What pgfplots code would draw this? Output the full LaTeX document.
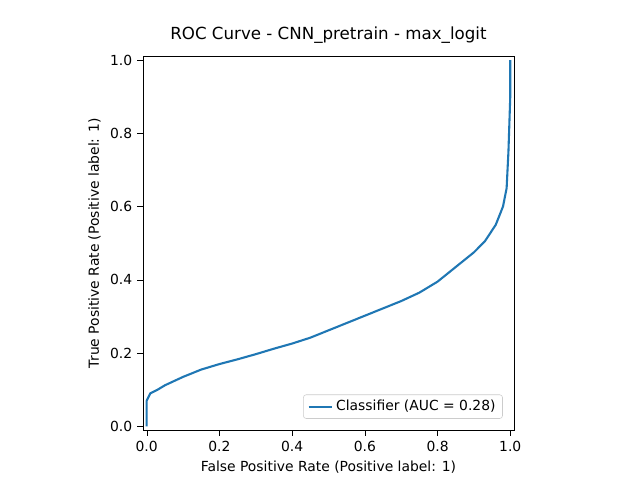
\documentclass[border=0pt]{standalone}
\usepackage{pgfplots}
\pgfplotsset{compat=1.18}
\usepackage{fontspec}
\setmainfont{DejaVu Sans}
\begin{document}
\begin{tikzpicture}
\fill[white] (0,0) rectangle (460.8pt,345.6pt);
\begin{axis}[at={(103pt,36pt)},anchor=south west,scale only axis,
width=267pt,height=269pt,
xmin=-0.01,xmax=1.01,ymin=-0.01,ymax=1.01,
xtick={0,0.2,0.4,0.6,0.8,1},ytick={0,0.2,0.4,0.6,0.8,1},
/pgf/number format/assume math mode=true,
xticklabel style={/pgf/number format/.cd,fixed,fixed zerofill,precision=1},
yticklabel style={/pgf/number format/.cd,fixed,fixed zerofill,precision=1},
tick style={black},tick align=outside,
xtick pos=bottom,ytick pos=left,
ticklabel style={font=\fontsize{10}{12}\selectfont},
title style={font=\fontsize{12}{14}\selectfont},
label style={font=\fontsize{10}{12}\selectfont},
title={ROC Curve - CNN\_pretrain - max\_logit},
xlabel={False Positive Rate (Positive label: 1)},
ylabel={True Positive Rate (Positive label: 1)},
legend pos=south east,
legend style={font=\fontsize{10}{12}\selectfont,draw=black!20,rounded corners=2pt},
legend cell align=left]
\addplot[color={rgb,255:red,31;green,119;blue,180},line width=1.5pt] coordinates {
(0,0)(0,0.07)(0.005,0.08)(0.01,0.09)(0.03,0.1)(0.05,0.112)(0.1,0.135)(0.15,0.155)(0.2,0.17)(0.25,0.183)(0.3,0.197)(0.35,0.212)(0.4,0.226)(0.45,0.242)(0.5,0.262)(0.55,0.282)(0.6,0.302)(0.65,0.322)(0.7,0.342)(0.75,0.365)(0.8,0.395)(0.85,0.435)(0.9,0.475)(0.93,0.505)(0.96,0.55)(0.98,0.6)(0.99,0.65)(0.995,0.75)(1,0.9)(1,1)};
\addlegendentry{Classifier (AUC = 0.28)}
\end{axis}
\end{tikzpicture}
\end{document}
